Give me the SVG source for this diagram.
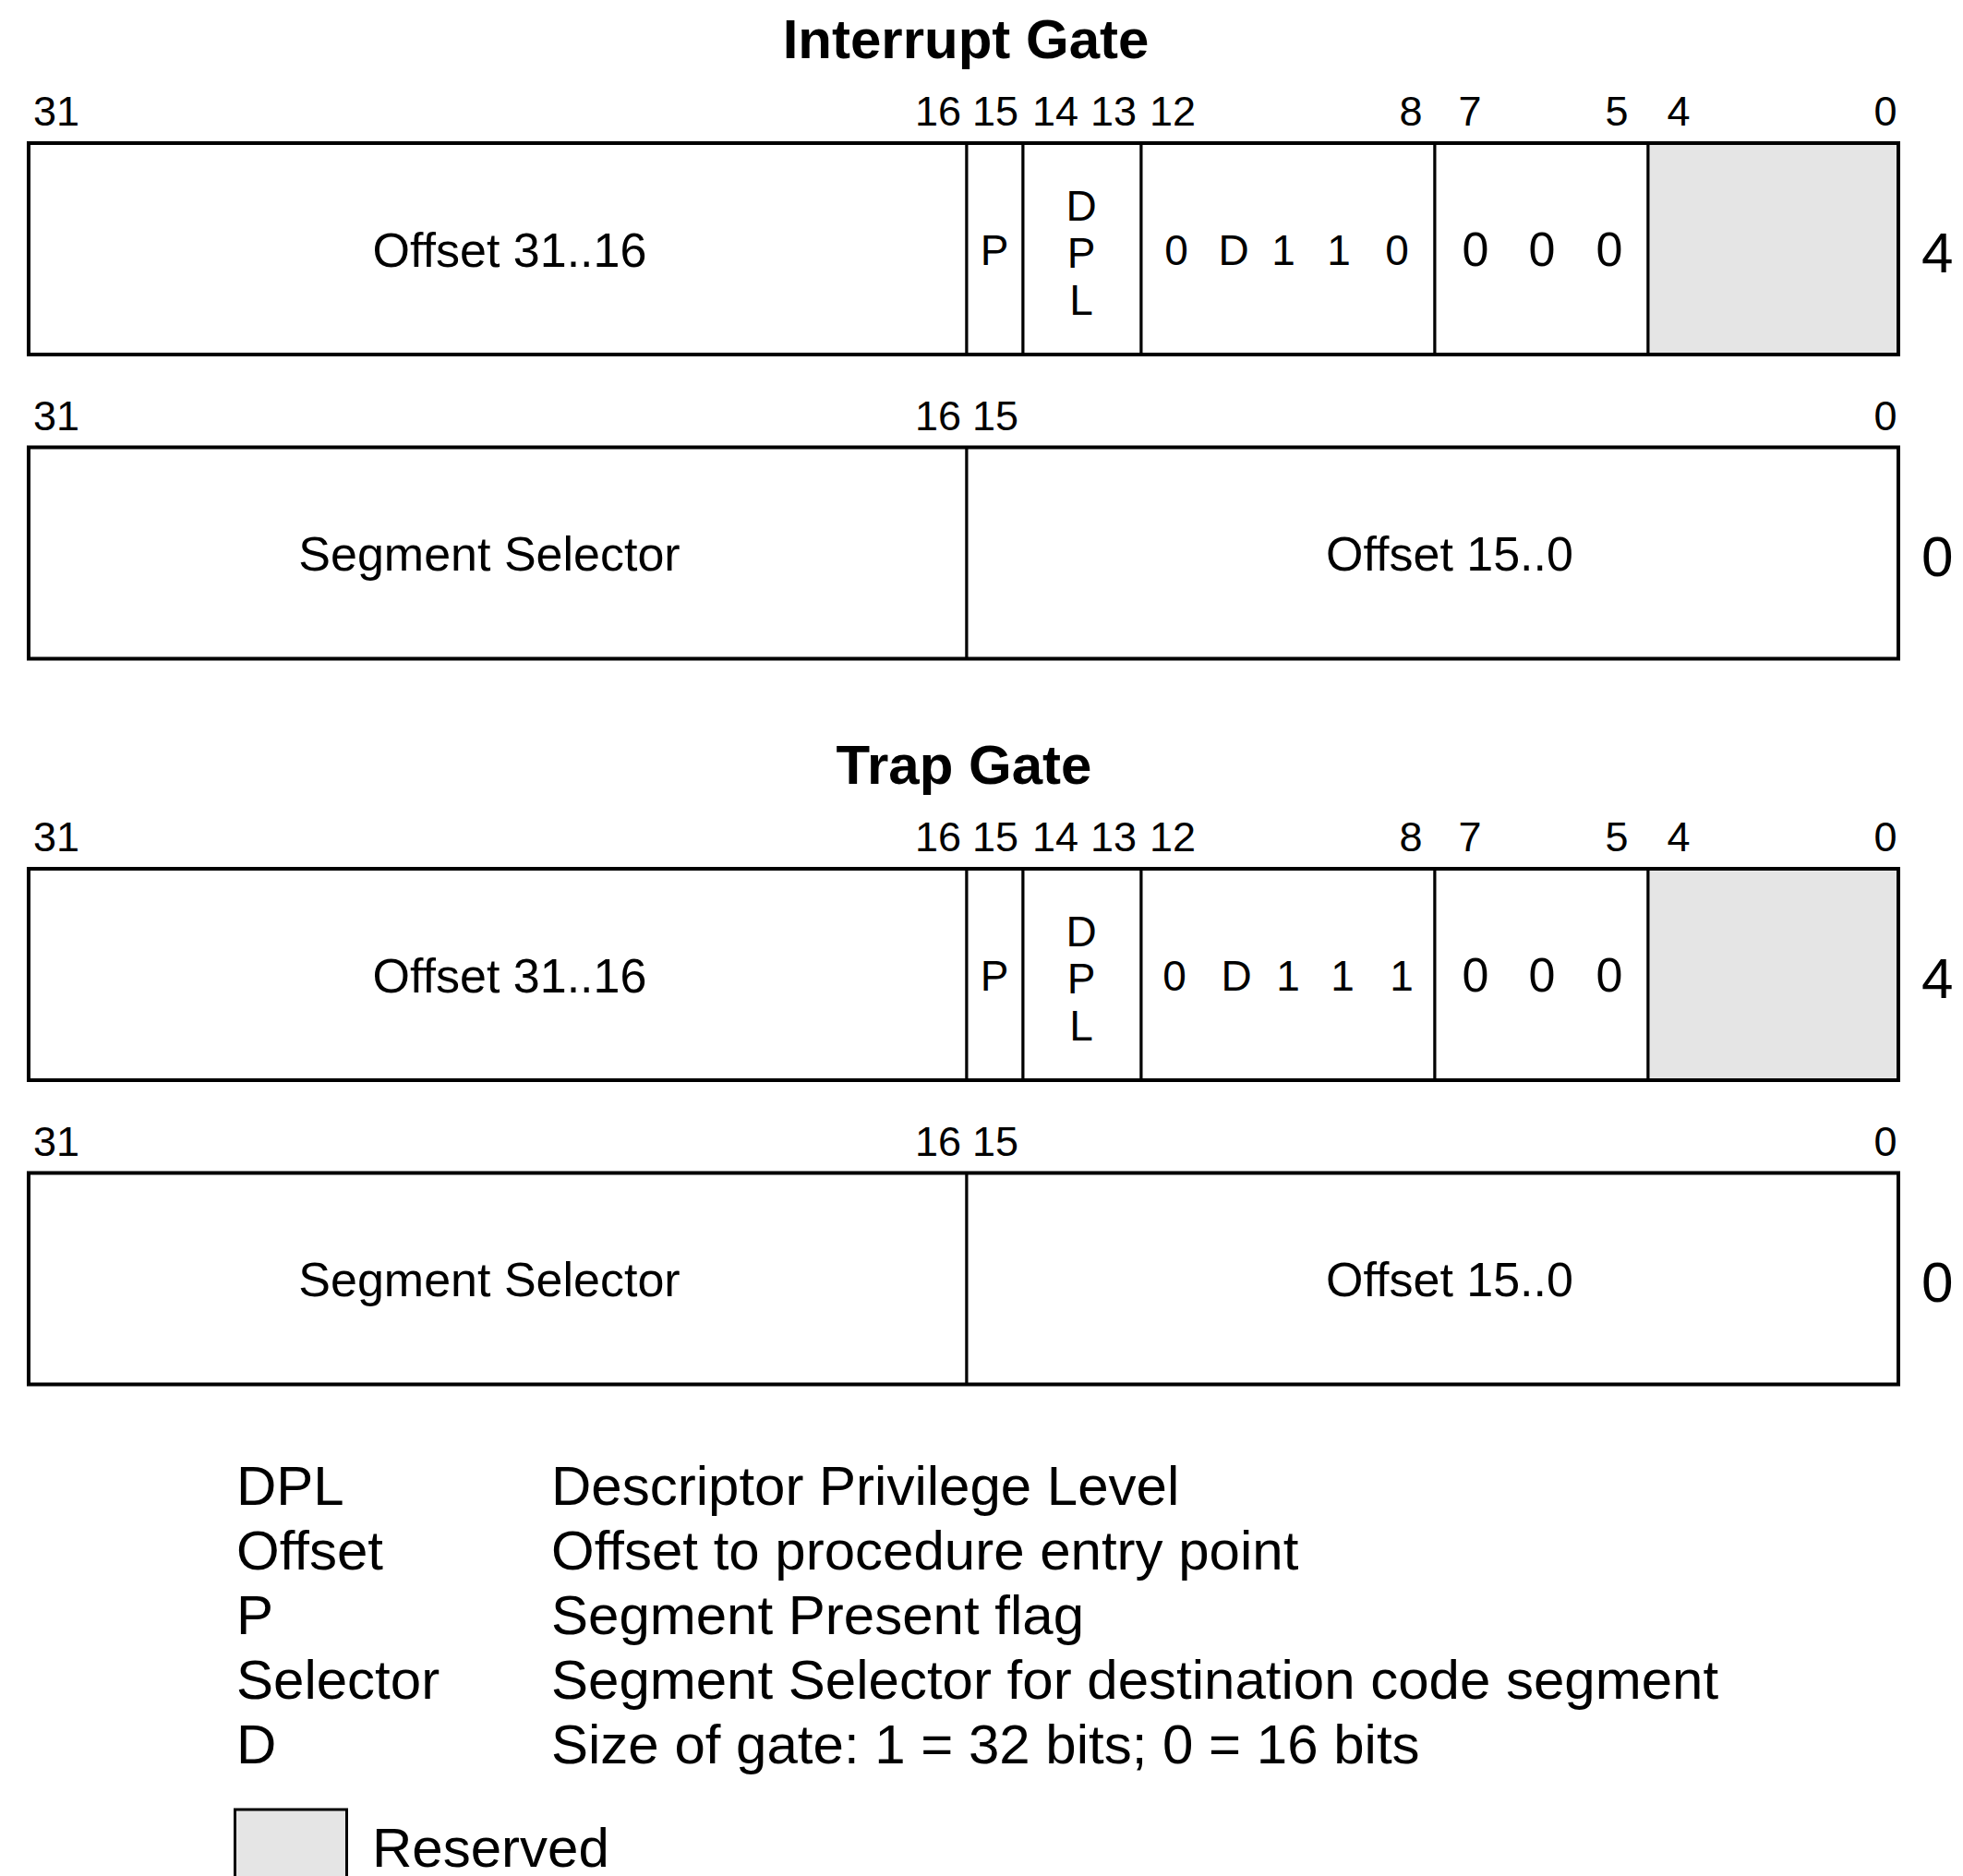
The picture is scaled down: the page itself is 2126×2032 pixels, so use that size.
<svg xmlns="http://www.w3.org/2000/svg" width="2126" height="2032" viewBox="0 0 2126 2032">
<style>
text{font-family:"Liberation Sans",Arial,Helvetica,sans-serif;fill:#000}
.title{font-size:60px;font-weight:bold;text-anchor:middle}
.bit{font-size:45px;text-anchor:middle}
.lbl{font-size:52px;text-anchor:middle}
.sm{font-size:46px;text-anchor:middle}
.off{font-size:62px}
.leg{font-size:60px}
.cell{fill:#fff;stroke:#000;stroke-width:3}
.res{fill:#e5e5e5;stroke:#000;stroke-width:3}
.outer{fill:none;stroke:#000;stroke-width:4}
</style>
<rect width="2126" height="2032" fill="#fff"/>

<g id="interrupt-gate">
  <text class="title" x="1046" y="63">Interrupt Gate</text>
  <g id="ig-bits-hi">
    <text class="bit" x="61" y="136">31</text>
    <text class="bit" x="1016" y="136">16</text>
    <text class="bit" x="1078" y="136">15</text>
    <text class="bit" x="1143" y="136">14</text>
    <text class="bit" x="1206" y="136">13</text>
    <text class="bit" x="1270" y="136">12</text>
    <text class="bit" x="1528" y="136">8</text>
    <text class="bit" x="1592" y="136">7</text>
    <text class="bit" x="1751" y="136">5</text>
    <text class="bit" x="1818" y="136">4</text>
    <text class="bit" x="2042" y="136">0</text>
  </g>
  <g id="ig-offset-hi"><rect class="cell" x="31" y="155" width="1016" height="229"/><text class="lbl" x="552" y="289">Offset 31..16</text></g>
  <g id="ig-p"><rect class="cell" x="1047" y="155" width="61" height="229"/><text class="sm" x="1077" y="287">P</text></g>
  <g id="ig-dpl"><rect class="cell" x="1108" y="155" width="128" height="229"/><text class="sm" x="1171" y="239">D</text><text class="sm" x="1171" y="290">P</text><text class="sm" x="1171" y="341">L</text></g>
  <g id="ig-type"><rect class="cell" x="1236" y="155" width="318" height="229"/>
    <text class="sm" x="1274" y="287">0</text><text class="sm" x="1336" y="287">D</text><text class="sm" x="1390" y="287">1</text><text class="sm" x="1450" y="287">1</text><text class="sm" x="1513" y="287">0</text></g>
  <g id="ig-zeros"><rect class="cell" x="1554" y="155" width="231" height="229"/>
    <text class="lbl" x="1598" y="288">0</text><text class="lbl" x="1670" y="288">0</text><text class="lbl" x="1743" y="288">0</text></g>
  <g id="ig-reserved"><rect class="res" x="1785" y="155" width="271" height="229"/></g>
  <rect class="outer" x="31" y="155" width="2025" height="229"/>
  <text class="off" x="2081" y="295">4</text>

  <g id="ig-bits-lo">
    <text class="bit" x="61" y="466">31</text>
    <text class="bit" x="1016" y="466">16</text>
    <text class="bit" x="1078" y="466">15</text>
    <text class="bit" x="2042" y="466">0</text>
  </g>
  <g id="ig-selector"><rect class="cell" x="31" y="484.5" width="1016" height="229"/><text class="lbl" x="530" y="618">Segment Selector</text></g>
  <g id="ig-offset-lo"><rect class="cell" x="1047" y="484.5" width="1009" height="229"/><text class="lbl" x="1570" y="618">Offset 15..0</text></g>
  <rect class="outer" x="31" y="484.5" width="2025" height="229"/>
  <text class="off" x="2081" y="624">0</text>
</g>

<g id="trap-gate" transform="translate(0,786)">
  <text class="title" x="1044" y="63">Trap Gate</text>
  <g id="tg-bits-hi">
    <text class="bit" x="61" y="136">31</text>
    <text class="bit" x="1016" y="136">16</text>
    <text class="bit" x="1078" y="136">15</text>
    <text class="bit" x="1143" y="136">14</text>
    <text class="bit" x="1206" y="136">13</text>
    <text class="bit" x="1270" y="136">12</text>
    <text class="bit" x="1528" y="136">8</text>
    <text class="bit" x="1592" y="136">7</text>
    <text class="bit" x="1751" y="136">5</text>
    <text class="bit" x="1818" y="136">4</text>
    <text class="bit" x="2042" y="136">0</text>
  </g>
  <g id="tg-offset-hi"><rect class="cell" x="31" y="155" width="1016" height="229"/><text class="lbl" x="552" y="289">Offset 31..16</text></g>
  <g id="tg-p"><rect class="cell" x="1047" y="155" width="61" height="229"/><text class="sm" x="1077" y="287">P</text></g>
  <g id="tg-dpl"><rect class="cell" x="1108" y="155" width="128" height="229"/><text class="sm" x="1171" y="239">D</text><text class="sm" x="1171" y="290">P</text><text class="sm" x="1171" y="341">L</text></g>
  <g id="tg-type"><rect class="cell" x="1236" y="155" width="318" height="229"/>
    <text class="sm" x="1272" y="287">0</text><text class="sm" x="1339" y="287">D</text><text class="sm" x="1395" y="287">1</text><text class="sm" x="1454" y="287">1</text><text class="sm" x="1518" y="287">1</text></g>
  <g id="tg-zeros"><rect class="cell" x="1554" y="155" width="231" height="229"/>
    <text class="lbl" x="1598" y="288">0</text><text class="lbl" x="1670" y="288">0</text><text class="lbl" x="1743" y="288">0</text></g>
  <g id="tg-reserved"><rect class="res" x="1785" y="155" width="271" height="229"/></g>
  <rect class="outer" x="31" y="155" width="2025" height="229"/>
  <text class="off" x="2081" y="295">4</text>

  <g id="tg-bits-lo">
    <text class="bit" x="61" y="466">31</text>
    <text class="bit" x="1016" y="466">16</text>
    <text class="bit" x="1078" y="466">15</text>
    <text class="bit" x="2042" y="466">0</text>
  </g>
  <g id="tg-selector"><rect class="cell" x="31" y="484.5" width="1016" height="229"/><text class="lbl" x="530" y="618">Segment Selector</text></g>
  <g id="tg-offset-lo"><rect class="cell" x="1047" y="484.5" width="1009" height="229"/><text class="lbl" x="1570" y="618">Offset 15..0</text></g>
  <rect class="outer" x="31" y="484.5" width="2025" height="229"/>
  <text class="off" x="2081" y="624">0</text>
</g>

<g id="legend">
  <text class="leg" x="256" y="1630">DPL</text><text class="leg" x="597" y="1630">Descriptor Privilege Level</text>
  <text class="leg" x="256" y="1700">Offset</text><text class="leg" x="597" y="1700">Offset to procedure entry point</text>
  <text class="leg" x="256" y="1770">P</text><text class="leg" x="597" y="1770">Segment Present flag</text>
  <text class="leg" x="256" y="1840">Selector</text><text class="leg" x="597" y="1840">Segment Selector for destination code segment</text>
  <text class="leg" x="256" y="1910">D</text><text class="leg" x="597" y="1910">Size of gate: 1 = 32 bits; 0 = 16 bits</text>
  <g id="legend-reserved"><rect class="res" x="254.5" y="1960" width="121" height="90"/><text class="leg" x="403" y="2022">Reserved</text></g>
</g>
</svg>
